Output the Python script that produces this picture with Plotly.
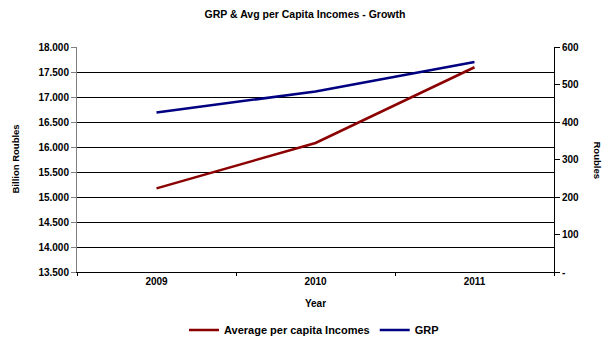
import plotly.graph_objects as go

years = ["2009", "2010", "2011"]
grp = [16690, 17110, 17700]            # Billion Roubles (left axis)
income = [223, 344, 546]               # Roubles (right axis)

left_ticks = [13500, 14000, 14500, 15000, 15500, 16000, 16500, 17000, 17500, 18000]
left_text = ["13.500", "14.000", "14.500", "15.000", "15.500", "16.000", "16.500", "17.000", "17.500", "18.000"]
right_ticks = [0, 100, 200, 300, 400, 500, 600]
right_text = ["-", "100", "200", "300", "400", "500", "600"]

FONT = "Liberation Sans, Arial, sans-serif"
RED = "#8B0000"
BLUE = "#000080"
OFF = 8  # page body margin
W, H = 613 - OFF, 338 - OFF
L, T = 77 - OFF, 47 - OFF
R = W - (554 - OFF)
B = H - (272 - OFF)
PW, PH = W - L - R, H - T - B

def f(size=10):
    return dict(family=FONT, size=size, color="black", weight="bold")

fig = go.Figure()
fig.add_trace(go.Scatter(x=years, y=income, name="Average per capita Incomes",
                         mode="lines", line=dict(color=RED, width=2.5), yaxis="y2"))
fig.add_trace(go.Scatter(x=years, y=grp, name="GRP",
                         mode="lines", line=dict(color=BLUE, width=2.5), yaxis="y"))

fig.update_layout(
    width=W, height=H,
    margin=dict(l=L, r=R, t=T, b=B, autoexpand=False),
    paper_bgcolor="white", plot_bgcolor="white",
    font=f(10),
    title=dict(text="GRP & Avg per Capita Incomes - Growth", xref="paper",
               x=(305 - OFF - L) / PW, xanchor="center",
               yref="container", y=1 - (14 - OFF) / H, yanchor="middle",
               font=f(10.5)),
    xaxis=dict(type="category", range=[-0.5, 2.5], showgrid=False, automargin=False,
               showline=True, linecolor="black", linewidth=1,
               ticks="outside", tickson="boundaries", ticklen=3, tickcolor="black",
               tickfont=f(10),
               title=dict(text="Year", standoff=13, font=f(10))),
    yaxis=dict(range=[13500, 18000], tickvals=left_ticks, ticktext=left_text, automargin=False,
               showgrid=True, gridcolor="#000000", gridwidth=1,
               showline=True, linecolor="#808080", linewidth=1,
               ticks="outside", ticklen=5, tickcolor="#808080",
               zeroline=False, tickfont=f(10)),
    yaxis2=dict(range=[0, 600], tickvals=right_ticks, ticktext=right_text, automargin=False,
                overlaying="y", side="right", showgrid=False,
                showline=True, linecolor="black", linewidth=1,
                ticks="outside", ticklen=5, tickcolor="black", zeroline=False,
                tickfont=f(10)),
    legend=dict(orientation="h", xref="paper", x=(314 - OFF - L) / PW, xanchor="center",
                yref="container", y=1 - (330 - OFF) / H, yanchor="middle",
                font=f(11), itemwidth=30, bgcolor="rgba(0,0,0,0)"),
    showlegend=True,
)

fig.add_annotation(text="Billion Roubles", xref="paper", yref="paper",
                   x=(15 - OFF - L) / PW, y=0.5, xanchor="center", yanchor="middle",
                   textangle=-90, showarrow=False, font=f(9.5))
fig.add_annotation(text="Roubles", xref="paper", yref="paper",
                   x=(597 - OFF - L) / PW, y=0.5, xanchor="center", yanchor="middle",
                   textangle=90, showarrow=False, font=f(9.5))

fig.write_html("out.html")
